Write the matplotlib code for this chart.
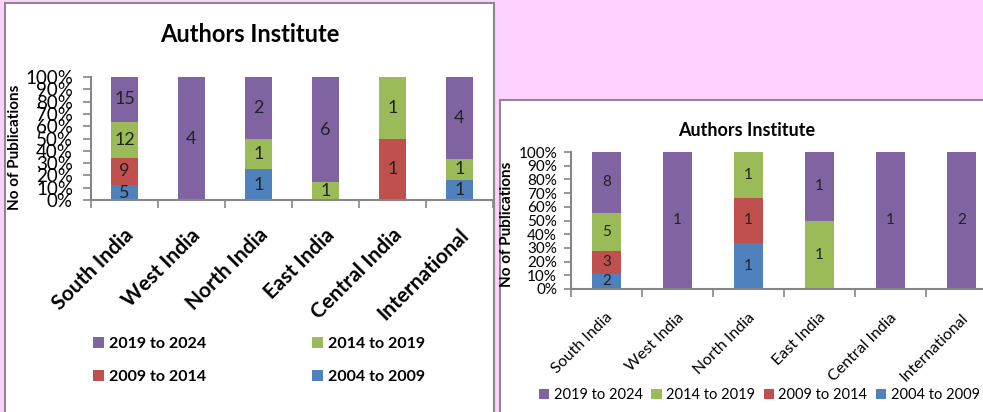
import matplotlib.pyplot as plt
import matplotlib.transforms as mtransforms
import numpy as np
from matplotlib.patches import Rectangle
from matplotlib.ticker import FixedLocator, MultipleLocator, PercentFormatter

plt.rcParams['font.family'] = ['Lato', 'DejaVu Sans']

# Categories and periods
regions = ['South India', 'West India', 'North India', 'East India', 'Central India', 'International']
periods = ['2004 to 2009', '2009 to 2014', '2014 to 2019', '2019 to 2024']
colors = ['#4F81BD', '#C0504D', '#9BBB59', '#8064A2']

# Left chart counts (one list per period)
left_2004_2009 = [5, 0, 1, 0, 0, 1]
left_2009_2014 = [9, 0, 0, 0, 1, 0]
left_2014_2019 = [12, 0, 1, 1, 1, 1]
left_2019_2024 = [15, 4, 2, 6, 0, 4]

# Right chart counts
right_2004_2009 = [2, 0, 1, 0, 0, 0]
right_2009_2014 = [3, 0, 1, 0, 0, 0]
right_2014_2019 = [5, 0, 1, 1, 0, 0]
right_2019_2024 = [8, 1, 0, 1, 1, 2]

W, H = 983, 412
fig = plt.figure(figsize=(W / 100, H / 100), dpi=100, facecolor='#FFD2FF')


def fig_box(x0, y0, x1, y1):
    # pixel box (top-left origin) -> figure fraction rect
    return [x0 / W, 1 - y1 / H, (x1 - x0) / W, (y1 - y0) / H]


# White chart panels with grey border
for x0, y0, x1, y1 in [(5, 3, 494, 420), (500, 100, 990, 420)]:
    l, b, w, h = fig_box(x0, y0, x1, y1)
    fig.add_artist(Rectangle((l, b), w, h, transform=fig.transFigure, facecolor='white',
                             edgecolor='#8a8a8a', linewidth=1.5, zorder=-1))


def draw_panel(ax, series, bar_fs, tick_fs, ytick_len, ytick_pad, xlab_fs, xlab_weight, xpad, xshift):
    x = np.arange(len(regions))
    totals = np.sum(series, axis=0)
    bottom = np.zeros(len(regions))
    handles = {}
    for vals, color, period in zip(series, colors, periods):
        vals = np.array(vals)
        pct = vals / totals
        bars = ax.bar(x, pct, 0.4, bottom=bottom, color=color, label=period)
        ax.bar_label(bars, labels=[str(v) if v else '' for v in vals], label_type='center',
                     fontsize=bar_fs, color='#222222')
        handles[period] = bars
        bottom += pct

    ax.set_xlim(-0.5, len(regions) - 0.5)
    ax.set_ylim(0, 1)
    ax.set_facecolor('none')
    ax.yaxis.set_major_locator(MultipleLocator(0.1))
    ax.yaxis.set_major_formatter(PercentFormatter(1.0, decimals=0))
    ax.tick_params(axis='y', length=ytick_len, width=1.2, color='#868686',
                   labelsize=tick_fs, pad=ytick_pad)

    ax.set_xticks(x, regions, rotation=45, ha='right', va='center', rotation_mode='anchor',
                  fontsize=xlab_fs, fontweight=xlab_weight)
    ax.xaxis.set_minor_locator(FixedLocator(np.arange(-0.5, len(regions), 1)))
    ax.tick_params(axis='x', which='major', length=0, pad=xpad)
    ax.tick_params(axis='x', which='minor', length=6, width=1.2, color='#868686')
    shift = mtransforms.ScaledTranslation(xshift / 100, 0, fig.dpi_scale_trans)
    for lab in ax.get_xticklabels():
        lab.set_transform(lab.get_transform() + shift)

    for side in ['top', 'right']:
        ax.spines[side].set_visible(False)
    for side in ['left', 'bottom']:
        ax.spines[side].set_color('#868686')
        ax.spines[side].set_linewidth(1.5)
    return handles


# Left chart
ax1 = fig.add_axes(fig_box(91, 77, 493, 200))
h1 = draw_panel(ax1, [left_2004_2009, left_2009_2014, left_2014_2019, left_2019_2024],
                bar_fs=13, tick_fs=13.5, ytick_len=6, ytick_pad=7, xlab_fs=15,
                xlab_weight='bold', xpad=23, xshift=6)
ax1.set_ylabel('No of Publications', fontsize=11, fontweight='bold')
ax1.yaxis.set_label_coords(-0.172, 0.43)
fig.text(250 / W, 1 - 34 / H, 'Authors Institute', ha='center', va='center',
         fontsize=17, fontweight='bold')
order1 = ['2019 to 2024', '2009 to 2014', '2014 to 2019', '2004 to 2009']
fig.legend([h1[p] for p in order1], order1, ncol=2, loc='center left',
           bbox_to_anchor=(93 / W, 1 - 360.5 / H), bbox_transform=fig.transFigure,
           frameon=False, borderpad=0, borderaxespad=0, handlelength=0.7, handleheight=0.7,
           handletextpad=0.3, columnspacing=6.6, labelspacing=1.15,
           prop={'size': 11.5, 'weight': 'bold'})

# Right chart (runs past the right edge of the picture)
ax2 = fig.add_axes(fig_box(571, 152, 997, 289))
h2 = draw_panel(ax2, [right_2004_2009, right_2009_2014, right_2014_2019, right_2019_2024],
                bar_fs=11, tick_fs=11, ytick_len=5, ytick_pad=5, xlab_fs=11.5,
                xlab_weight='normal', xpad=19, xshift=4)
ax2.set_ylabel('No of Publications', fontsize=11, fontweight='bold')
ax2.yaxis.set_label_coords(-0.134, 0.47)
fig.text(747 / W, 1 - 130 / H, 'Authors Institute', ha='center', va='center',
         fontsize=13, fontweight='bold')
order2 = ['2019 to 2024', '2014 to 2019', '2009 to 2014', '2004 to 2009']
fig.legend([h2[p] for p in order2], order2, ncol=4, loc='center left',
           bbox_to_anchor=(539 / W, 1 - 395 / H), bbox_transform=fig.transFigure,
           frameon=False, borderpad=0, borderaxespad=0, handlelength=0.7, handleheight=0.7,
           handletextpad=0.3, columnspacing=0.6, prop={'size': 10.5})

plt.savefig('out.png', dpi=100, facecolor=fig.get_facecolor())
